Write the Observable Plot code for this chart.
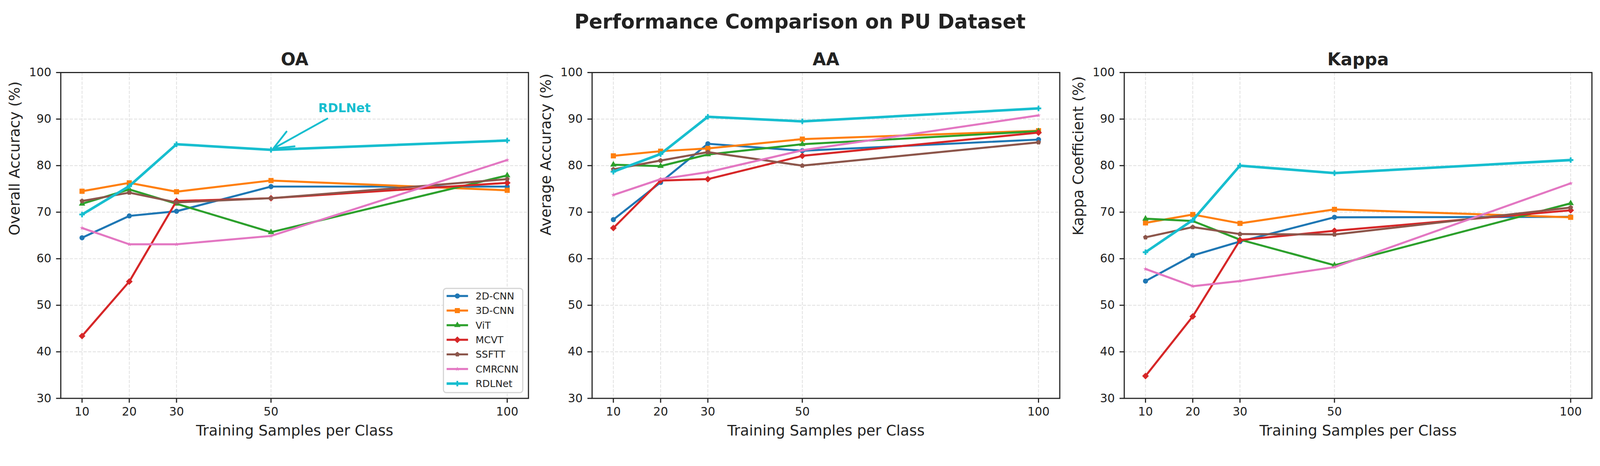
<!DOCTYPE html>
<html>
<head>
<meta charset="utf-8">
<script src="https://cdn.jsdelivr.net/npm/d3@7"></script>
<script src="https://cdn.jsdelivr.net/npm/@observablehq/plot@0.6"></script>
<style>
html, body { margin: 0; padding: 0; background: #ffffff; overflow: hidden; }
#root { position: relative; width: 4256px; height: 1192px; overflow: hidden; font-family: "DejaVu Sans", sans-serif; color: #222; transform-origin: 0 0; }
.panel { position: absolute; top: 0; }
.panel svg { max-width: none !important; overflow: visible; }
</style>
</head>
<body>
<div id="root"></div>
<script>
// ---------- data ----------
const suptitle = "Performance Comparison on PU Dataset";
const samples = [10, 20, 30, 50, 100];
const yTicks = [30, 40, 50, 60, 70, 80, 90, 100];
const methods = ["2D-CNN", "3D-CNN", "ViT", "MCVT", "SSFTT", "CMRCNN", "RDLNet"];
const colors = ["#1f77b4", "#ff7f0e", "#2ca02c", "#d62728", "#8c564b", "#e377c2", "#17becf"];
const markerNames = ["circle", "square", "triangle", "diamond", "pentagon", "star", "plus"];
const panelTitles = ["OA", "AA", "Kappa"];
const yLabels = ["Overall Accuracy (%)", "Average Accuracy (%)", "Kappa Coefficient (%)"];
const xLabel = "Training Samples per Class";

// rows follow `methods`, columns follow `samples`
const oaValues = [
  [64.5, 69.2, 70.2, 75.5, 75.5],
  [74.5, 76.3, 74.4, 76.8, 74.7],
  [71.8, 74.9, 71.8, 65.7, 77.9],
  [43.4, 55.1, 72.4, 73.0, 76.3],
  [72.4, 74.2, 72.1, 73.0, 77.1],
  [66.6, 63.1, 63.1, 64.9, 81.2],
  [69.5, 75.6, 84.6, 83.4, 85.4]
];
const aaValues = [
  [68.4, 76.4, 84.7, 83.2, 85.6],
  [82.1, 83.1, 83.7, 85.7, 87.5],
  [80.2, 79.9, 82.4, 84.6, 87.4],
  [66.6, 76.8, 77.1, 82.1, 87.1],
  [79.2, 81.1, 82.9, 80.0, 85.0],
  [73.7, 77.1, 78.6, 83.3, 90.8],
  [78.7, 82.5, 90.5, 89.5, 92.3]
];
const kappaValues = [
  [55.2, 60.7, 63.7, 68.9, 69.0],
  [67.7, 69.5, 67.6, 70.6, 68.9],
  [68.6, 68.1, 64.1, 58.6, 71.9],
  [34.8, 47.6, 64.0, 66.0, 70.4],
  [64.6, 66.8, 65.3, 65.2, 71.0],
  [57.8, 54.1, 55.2, 58.2, 76.2],
  [61.4, 68.3, 80.0, 78.4, 81.2]
];
// annotation on the OA panel (data coordinates)
const annotation = [{label: "RDLNet", x: 60, y: 92.3, fromX: 61.9, fromY: 90.1, toX: 50, toY: 83.4}];

// ---------- styling ----------
const metricValues = [oaValues, aaValues, kappaValues];
const pentagon = {
  draw(ctx, size) {
    const R = Math.sqrt(size / (2.5 * Math.sin(2 * Math.PI / 5)));
    for (let k = 0; k < 5; k++) {
      const a = -Math.PI / 2 + k * 2 * Math.PI / 5;
      const px = R * Math.cos(a), py = R * Math.sin(a);
      if (k) ctx.lineTo(px, py); else ctx.moveTo(px, py);
    }
    ctx.closePath();
  }
};
const symbolTypes = {
  circle: d3.symbolCircle, square: d3.symbolSquare, triangle: d3.symbolTriangle,
  diamond: d3.symbolDiamond2, pentagon: pentagon, star: d3.symbolStar, plus: d3.symbolCross
};
const markerR = {circle: 6.8, square: 7.7, triangle: 6.3, diamond: 8.0, pentagon: 6.0, star: 3.7, plus: 6.1};
const lineW = methods.map(m => m === "RDLNet" ? 6.8 : 5.4);

const W = 4256, H = 1192;
const frameTop = 192.3, frameBottom = 1058.3, frameW = 1244;
const panelOffsets = [0, 1414, 2829, 4256];
const frameLefts = [161.2, 1574.5, 2990];
const font = "DejaVu Sans";
const ink = "#222222";

const root = document.getElementById("root");

// suptitle
const t = document.createElement("div");
t.textContent = suptitle;
t.style.cssText = `position:absolute;left:0;top:31px;width:${W}px;text-align:center;font:bold 53px '${font}';line-height:1;color:${ink};`;
root.appendChild(t);

panelTitles.forEach((title, p) => {
  const values = metricValues[p];
  const width = panelOffsets[p + 1] - panelOffsets[p];
  const marginLeft = frameLefts[p] - panelOffsets[p];
  const marginRight = width - marginLeft - frameW;
  const marks = [
    Plot.gridX(samples, {stroke: "#e2e2e2", strokeOpacity: 1, strokeWidth: 2.2, strokeDasharray: "8.5,3.7"}),
    Plot.gridY(yTicks, {stroke: "#e2e2e2", strokeOpacity: 1, strokeWidth: 2.2, strokeDasharray: "8.5,3.7"})
  ];
  methods.forEach((m, i) => {
    const rows = samples.map((s, j) => ({x: s, y: values[i][j]}));
    marks.push(Plot.line(rows, {x: "x", y: "y", stroke: colors[i], strokeWidth: lineW[i], strokeLinejoin: "round", strokeLinecap: "butt"}));
    marks.push(Plot.dot(rows, {x: "x", y: "y", fill: colors[i], stroke: "none", symbol: symbolTypes[markerNames[i]], r: markerR[markerNames[i]]}));
  });
  marks.push(Plot.frame({stroke: ink, strokeWidth: 3}));
  marks.push(Plot.axisX(samples, {tickSize: 12, tickPadding: 12, fontSize: 31, color: ink, strokeWidth: 3, tickFormat: d => String(d), label: null}));
  marks.push(Plot.axisY(yTicks, {tickSize: 12, tickPadding: 13, fontSize: 31, color: ink, strokeWidth: 3, tickFormat: d => String(d), label: null}));
  marks.push(Plot.text([title], {text: d => d, frameAnchor: "top", dy: -19.3, lineAnchor: "bottom", fontSize: 46, fontWeight: "bold", fill: ink}));
  marks.push(Plot.text([xLabel], {text: d => d, frameAnchor: "bottom", dy: 98.7, lineAnchor: "bottom", fontSize: 39, fill: ink}));
  marks.push(Plot.text([yLabels[p]], {text: d => d, frameAnchor: "left", dx: -122, rotate: -90, lineAnchor: "middle", fontSize: 39, fill: ink}));
  if (p === 0) {
    marks.push(Plot.arrow(annotation, {x1: "fromX", y1: "fromY", x2: "toX", y2: "toY", stroke: colors[6], strokeWidth: 4.8, headLength: 20, headAngle: 46, insetEnd: 7}));
    marks.push(Plot.text(annotation, {x: "x", y: "y", text: "label", textAnchor: "start", lineAnchor: "middle", fontSize: 33, fontWeight: "bold", fill: colors[6]}));
  }
  const chart = Plot.plot({
    width, height: H,
    marginLeft, marginRight, marginTop: frameTop, marginBottom: H - frameBottom,
    x: {type: "linear", domain: [5.5, 104.5]},
    y: {type: "linear", domain: [30, 100]},
    style: {fontFamily: font, background: "transparent", overflow: "visible", color: ink},
    marks
  });
  const holder = document.createElement("div");
  holder.className = "panel";
  holder.style.left = panelOffsets[p] + "px";
  holder.style.width = width + "px";
  holder.appendChild(chart);
  root.appendChild(holder);
});

// legend (inside OA panel, lower right)
const leg = document.createElement("div");
leg.style.cssText = "position:absolute;left:1178px;top:765px;width:214px;height:280px;box-sizing:border-box;border:3px solid #d4d4d4;border-radius:9px;background:rgba(255,255,255,0.85);";
const lsvg = d3.create("svg").attr("width", 208).attr("height", 274)
  .style("position", "absolute").style("left", "0px").style("top", "0px")
  .style("font-family", font);
methods.forEach((m, i) => {
  const g = lsvg.append("g").attr("transform", `translate(0,${18.7 + i * 38.8})`);
  g.append("line").attr("x1", 7).attr("x2", 64).attr("y1", 0).attr("y2", 0)
    .attr("stroke", colors[i]).attr("stroke-width", lineW[i]);
  const rr = markerR[markerNames[i]];
  g.append("path").attr("transform", "translate(35.5,0)")
    .attr("d", d3.symbol(symbolTypes[markerNames[i]], Math.PI * rr * rr)())
    .attr("fill", colors[i]);
  g.append("text").attr("x", 84).attr("dy", "0.35em").attr("font-size", 26).attr("fill", ink).text(m);
});
leg.appendChild(lsvg.node());
root.appendChild(leg);

// fit the 4256-wide drawing to the actual viewport width
const vw = document.documentElement.clientWidth || window.innerWidth;
const fit = Math.min(vw / W, window.innerHeight / H);
if (fit > 0 && Math.abs(fit - 1) > 0.002) root.style.transform = `scale(${fit})`;
</script>
</body>
</html>
